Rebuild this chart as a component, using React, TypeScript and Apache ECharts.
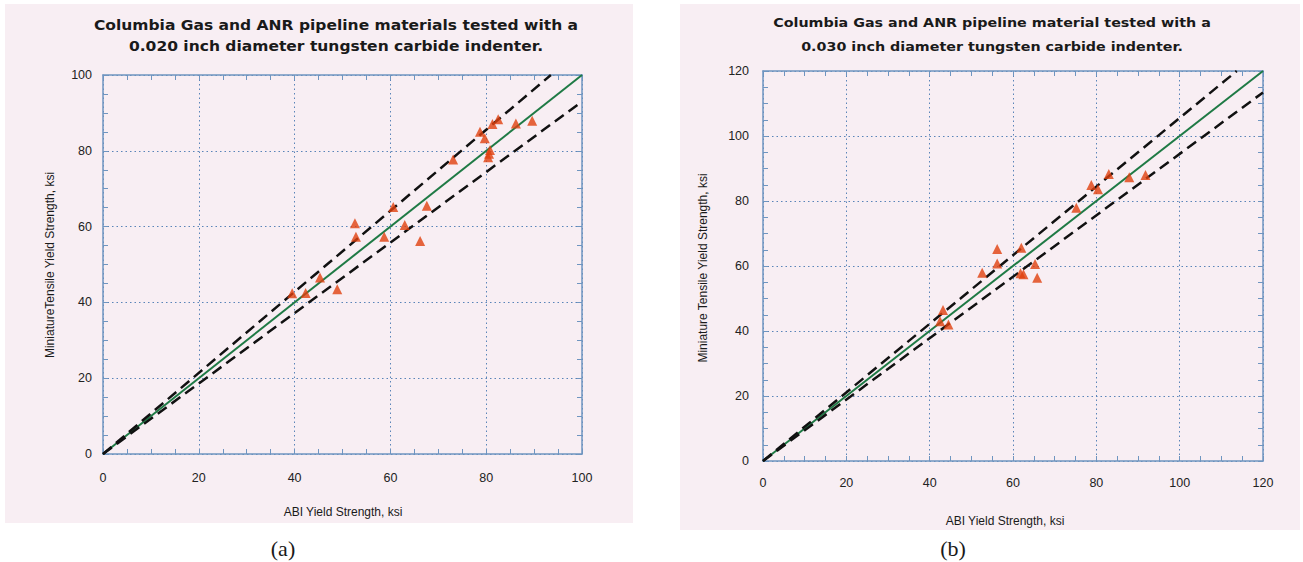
import React, { useEffect, useRef } from "react";
import * as echarts from "echarts";

// Panel (a): 0.020 inch indenter
const aMax = 100;
const aAbi = [39.5, 42.3, 45.3, 48.9, 52.6, 52.8, 58.7, 60.6, 63.0, 66.2, 67.6, 73.1, 78.7, 79.7, 81.3, 82.5, 86.2, 89.6, 80.8, 80.4, 80.6];
const aMini = [42.4, 42.5, 46.6, 43.5, 60.9, 57.3, 57.3, 65.2, 60.4, 56.2, 65.5, 77.7, 85.0, 83.3, 87.1, 88.3, 87.2, 87.9, 80.2, 78.3, 79.2];
const aEqual = [[0, 0], [100, 100]];
const aUpper = [[0, 0], [93.5, 100]];
const aLower = [[0, 0], [100, 93]];

// Panel (b): 0.030 inch indenter
const bMax = 120;
const bAbi = [42.5, 43.2, 44.5, 52.6, 56.2, 56.2, 61.8, 62.5, 62.0, 65.3, 65.8, 75.2, 78.8, 80.4, 83.0, 87.9, 91.8];
const bMini = [43.0, 46.5, 42.0, 57.9, 65.2, 60.8, 57.8, 57.5, 65.6, 60.6, 56.4, 77.9, 84.9, 83.6, 88.3, 87.3, 88.0];
const bEqual = [[0, 0], [120, 120]];
const bUpper = [[0, 0], [113.7, 120]];
const bLower = [[0, 0], [120, 113.4]];

const titleA = ["Columbia Gas and ANR pipeline materials tested with a", "0.020 inch diameter tungsten carbide indenter."];
const titleB = ["Columbia Gas and ANR pipeline material tested with a", "0.030 inch diameter tungsten carbide indenter."];
const xTitle = "ABI Yield Strength, ksi";
const yTitleA = "MiniatureTensile Yield Strength, ksi";
const yTitleB = "Miniature Tensile Yield Strength, ksi";

const AXIS = "#6f95c0";
const GRIDC = "#5a84b8";
const PINK = "#f8eef3";
const TRI = "#e0400e";
const GREEN = "#1f7a45";
const SANS = "'Liberation Sans', Arial, sans-serif";

function axis(gridIndex: number, max: number, pos: string, main: boolean, labelMargin: number) {
  return {
    type: "value",
    gridIndex,
    min: 0,
    max,
    interval: 20,
    position: pos,
    axisLine: { show: true, onZero: false, lineStyle: { color: AXIS, width: 1.5 } },
    axisTick: { show: true, inside: true, length: 5, lineStyle: { color: AXIS, width: 1 } },
    minorTick: { show: true, splitNumber: 4, length: 5, lineStyle: { color: AXIS, width: 1 } },
    splitLine: { show: main, lineStyle: { color: GRIDC, type: [1.5, 3], width: 1 } },
    axisLabel: { show: main, margin: labelMargin, fontSize: 12.5, color: "#222", fontFamily: SANS },
  };
}

function lineSeries(xi: number, yi: number, data: number[][], dashed: boolean) {
  return {
    type: "line",
    xAxisIndex: xi,
    yAxisIndex: yi,
    data,
    showSymbol: false,
    symbol: "none",
    z: 2,
    lineStyle: dashed
      ? { color: "#111", width: 2.5, type: [11, 6] }
      : { color: GREEN, width: 2 },
  };
}

function text(x: number, y: number, s: string, font: string, rotation = 0, scaleX = 1) {
  return {
    type: "text",
    x,
    y,
    rotation,
    scaleX,
    z: 10,
    style: { text: s, font, fill: "#1a1a1a", textAlign: "center", textVerticalAlign: "middle" },
  };
}

export default function App() {
  const ref = useRef<HTMLDivElement>(null);
  useEffect(() => {
    document.body.style.margin = "0";
    const chart = echarts.init(ref.current!, undefined, { renderer: "svg" });
    const titleFontA = `bold 13.5px 'DejaVu Sans', sans-serif`;
    const titleFontB = `bold 13px 'DejaVu Sans', sans-serif`;
    const labFont = `12px ${SANS}`;
    chart.setOption({
      animation: false,
      backgroundColor: "#ffffff",
      grid: [
        { left: 103, top: 75, width: 479, height: 379 },
        { left: 763, top: 71, width: 500, height: 390 },
      ],
      xAxis: [
        axis(0, aMax, "bottom", true, 17),
        axis(0, aMax, "top", false, 8),
        axis(1, bMax, "bottom", true, 15),
        axis(1, bMax, "top", false, 8),
      ],
      yAxis: [
        axis(0, aMax, "left", true, 11),
        axis(0, aMax, "right", false, 8),
        axis(1, bMax, "left", true, 14),
        axis(1, bMax, "right", false, 8),
      ],
      graphic: [
        { type: "rect", z: -100, shape: { x: 5, y: 4, width: 628, height: 519 }, style: { fill: PINK } },
        { type: "rect", z: -100, shape: { x: 680, y: 4, width: 620, height: 526 }, style: { fill: PINK } },
        text(336, 25, titleA[0], titleFontA, 0, 1.15),
        text(336, 46, titleA[1], titleFontA, 0, 1.15),
        text(992, 22, titleB[0], titleFontB, 0, 1.1),
        text(992, 46, titleB[1], titleFontB, 0, 1.1),
        text(343, 512, xTitle, labFont),
        text(1005, 521, xTitle, labFont),
        text(50, 265, yTitleA, labFont, Math.PI / 2),
        text(703, 268, yTitleB, labFont, Math.PI / 2),
        text(283, 548, "(a)", `22px 'Liberation Serif', 'Times New Roman', serif`),
        text(953, 548, "(b)", `22px 'Liberation Serif', 'Times New Roman', serif`),
      ],
      series: [
        lineSeries(0, 0, aEqual, false),
        lineSeries(0, 0, aUpper, true),
        lineSeries(0, 0, aLower, true),
        {
          type: "scatter", xAxisIndex: 0, yAxisIndex: 0, z: 3,
          symbol: "triangle", symbolSize: 10,
          itemStyle: { color: TRI },
          data: aAbi.map((v, i) => [v, aMini[i]]),
        },
        lineSeries(2, 2, bEqual, false),
        lineSeries(2, 2, bUpper, true),
        lineSeries(2, 2, bLower, true),
        {
          type: "scatter", xAxisIndex: 2, yAxisIndex: 2, z: 3,
          symbol: "triangle", symbolSize: 10,
          itemStyle: { color: TRI },
          data: bAbi.map((v, i) => [v, bMini[i]]),
        },
      ],
    });
    return () => chart.dispose();
  }, []);
  return <div ref={ref} style={{ width: 1303, height: 562 }} />;
}
